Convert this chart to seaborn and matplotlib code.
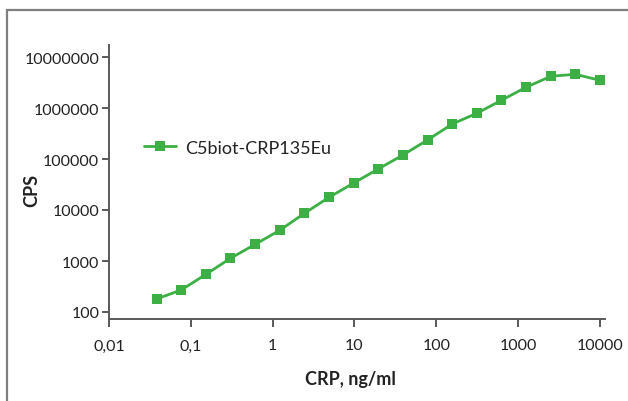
import matplotlib
matplotlib.use("Agg")
import matplotlib.pyplot as plt
from matplotlib.lines import Line2D
from matplotlib.ticker import FixedLocator, FixedFormatter, NullLocator
import seaborn as sns
import pandas as pd
import numpy as np

# Data (two-fold dilution series)
crp_ng_ml = [0.0381, 0.0763, 0.153, 0.305, 0.610, 1.22, 2.44, 4.88, 9.77,
             19.5, 39.1, 78.1, 156.25, 312.5, 625, 1250, 2500, 5000, 10000]
cps = [180, 270, 548, 1130, 2120, 4000, 8600, 17700, 33800,
       63700, 120000, 236000, 485000, 787000, 1420000, 2550000, 4190000, 4580000, 3490000]
series_name = "C5biot-CRP135Eu"

x_ticks = [0.01, 0.1, 1, 10, 100, 1000, 10000]
x_tick_labels = ["0,01", "0,1", "1", "10", "100", "1000", "10000"]
y_ticks = [100, 1000, 10000, 100000, 1000000, 10000000]
y_tick_labels = ["100", "1000", "10000", "100000", "1000000", "10000000"]

df = pd.DataFrame({"CRP": crp_ng_ml, "CPS": cps, "series": series_name})

sns.set_style("white")
plt.rcParams["font.family"] = ["Lato", "DejaVu Sans"]

W, H = 628, 402
fig = plt.figure(figsize=(W / 100, H / 100), dpi=100)
ax = fig.add_axes([109 / W, (H - 320) / H, (605 - 109) / W, (320 - 46) / H])

green = "#3cb044"
sns.lineplot(data=df, x="CRP", y="CPS", hue="series", palette=[green],
             marker="s", markersize=7, markeredgewidth=0, linewidth=2.0,
             ax=ax, legend=True)

ax.set_xscale("log")
ax.set_yscale("log")
ax.set_xlim(0.01, 10 ** (4 + 5 / 81.8))
ax.set_ylim(10 ** (2 - 7 / 51), 10 ** (7 + 12 / 51))

ax.xaxis.set_major_locator(FixedLocator(x_ticks))
ax.xaxis.set_major_formatter(FixedFormatter(x_tick_labels))
ax.xaxis.set_minor_locator(NullLocator())
ax.yaxis.set_major_locator(FixedLocator(y_ticks))
ax.yaxis.set_major_formatter(FixedFormatter(y_tick_labels))
ax.yaxis.set_minor_locator(NullLocator())

spine_col = "#595959"
for s in ["top", "right"]:
    ax.spines[s].set_visible(False)
for s in ["left", "bottom"]:
    ax.spines[s].set_color(spine_col)
    ax.spines[s].set_linewidth(1.4)

ax.tick_params(axis="y", which="major", direction="out", length=5, width=1.4,
               color=spine_col, labelsize=11.5, labelcolor="#222222", pad=2, left=True)
ax.tick_params(axis="x", which="major", direction="out", length=6, width=1.4,
               color=spine_col, labelsize=11.5, labelcolor="#222222", pad=8, bottom=True)

ax.set_xlabel("CRP, ng/ml", fontsize=13, fontweight="bold", color="#222222")
ax.set_ylabel("CPS", fontsize=13, fontweight="bold", color="#222222")
ax.xaxis.set_label_coords((350 - 109) / 496, (320 - 380) / 274)
ax.yaxis.set_label_coords((32 - 109) / 496, (320 - 190) / 274)
ax.xaxis.label.set_va("center")
ax.yaxis.label.set_va("center")

leg = ax.legend(loc="center left", bbox_to_anchor=(0.055, 0.625), frameon=False,
                fontsize=13, handlelength=1.8, handletextpad=0.5, borderaxespad=0)
for t in leg.get_texts():
    t.set_color("#222222")

# Figure border (top and left edges visible in crop)
bc = "#7f7f7f"
fig.add_artist(Line2D([7 / W, 1.0], [1 - 11 / H, 1 - 11 / H], color=bc, linewidth=1.6,
                      transform=fig.transFigure))
fig.add_artist(Line2D([7 / W, 7 / W], [0.0, 1 - 11 / H], color=bc, linewidth=1.6,
                      transform=fig.transFigure))

fig.savefig("out.png", dpi=100)
